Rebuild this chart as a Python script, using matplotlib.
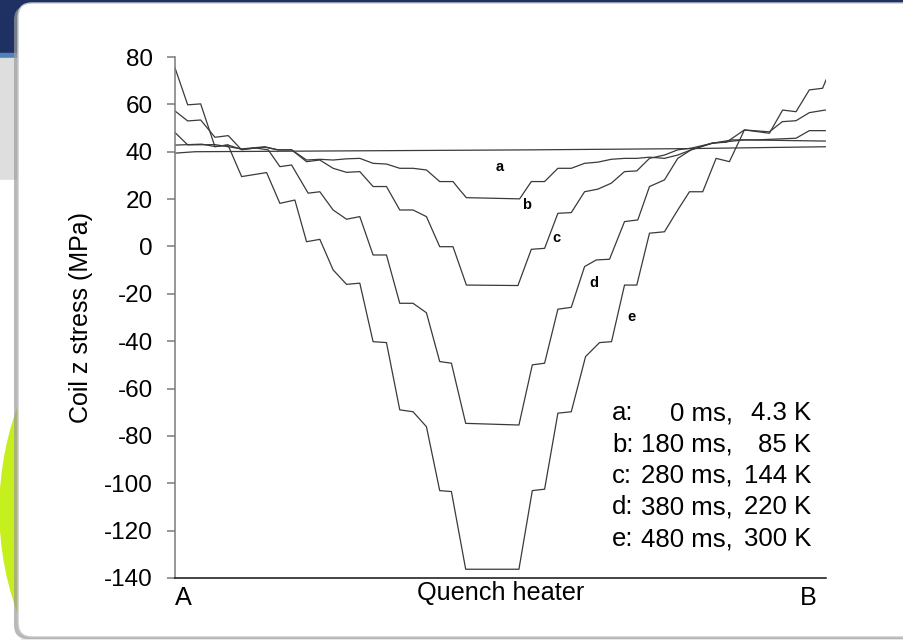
import matplotlib
matplotlib.use('Agg')
import matplotlib.pyplot as plt
from matplotlib.patches import Rectangle, Circle, FancyBboxPatch

plt.rcParams['font.family'] = ['Liberation Sans', 'DejaVu Sans']
plt.rcParams['axes.unicode_minus'] = False

# position along the coil from A to B (arbitrary units), stress in MPa
pos_a = [0, 20, 360, 510, 651]
stress_a = [39.4, 40.0, 40.8, 41.3, 42.1]

pos_b = [0, 26.7, 40, 53.3, 66.7, 90, 103, 116.7, 131.7, 145, 158.3, 171.7, 185,
         198.3, 211.7, 225, 238.3, 251.7, 265, 278.3, 285, 291.7, 345, 356.7, 370,
         383.3, 396.7, 410, 423.3, 436.7, 450, 462.3, 475, 490, 503.3, 516.7, 538,
         570, 651]
stress_b = [42.8, 43.2, 42.2, 42.8, 41.0, 41.9, 40.8, 40.8, 36.5, 36.8, 36.5, 37.0, 37.2,
            35.1, 34.8, 33.0, 33.0, 32.3, 27.4, 27.4, 23.9, 20.6, 20.1, 27.4, 27.4,
            33.0, 33.0, 35.1, 35.6, 36.8, 37.2, 37.2, 37.7, 37.2, 38.6, 40.8, 43.6,
            45.0, 44.5]

pos_c = [0, 12.7, 40, 66.7, 90, 103, 116.7, 131.7, 145, 158.3, 171.7, 185, 198.3,
         211.7, 225, 238.3, 251.7, 265, 278.3, 291.7, 343.3, 356.7, 370, 383.3, 396.7,
         410, 423.3, 436.7, 450, 462.3, 475, 490, 503.3, 516.7, 538, 558, 582, 621.7,
         635, 651]
stress_c = [48.1, 42.9, 43.0, 41.2, 42.1, 40.8, 40.8, 35.8, 36.5, 33.0, 31.3, 31.6, 25.3,
            25.3, 15.4, 15.4, 12.6, -0.1, -0.1, -16.3, -16.5, -1.2, -0.8, 14.0, 14.3,
            23.1, 24.2, 26.7, 31.6, 31.9, 37.2, 38.6, 40.8, 41.5, 43.6, 45.0, 45.0, 45.7,
            48.9, 48.9]

pos_d = [0, 12.7, 25.7, 40, 53.3, 66.7, 80, 93.3, 105, 116.7, 133.3, 145, 158.3, 171.7,
         185, 198.3, 211.7, 225, 238.3, 251.7, 265, 276.7, 291, 344.3, 357.7, 370,
         383.3, 396.7, 410, 421.7, 435, 450, 463.3, 475, 490, 503.3, 516.7, 538, 552,
         570, 595, 608, 621.7, 635, 651]
stress_d = [57.2, 53.0, 53.4, 46.1, 46.8, 40.8, 41.6, 40.8, 33.7, 34.4, 22.5, 23.1, 15.4, 11.5,
            12.6, -3.6, -3.6, -24.0, -24.0, -28.0, -48.6, -49.3, -74.7, -75.4, -50.0, -49.3,
            -26.5, -25.7, -8.5, -5.7, -5.4, 10.5, 11.2, 25.3, 28.1, 37.2, 40.8, 43.7, 44.0,
            49.2, 48.4, 52.7, 53.1, 56.5, 57.6]

pos_e = [0, 12.7, 25.7, 40, 53, 66.7, 91.7, 105, 120, 131.7, 145, 158.3, 171.7, 185,
         198.3, 211.7, 225, 238.3, 251.7, 265, 276.7, 291, 344.3, 357.7, 370, 383.3,
         396.7, 411, 425, 437, 450, 462.3, 475, 490, 503.3, 515, 528.3, 541.7, 555, 570,
         595, 608.3, 621.7, 635, 648.3, 651.7]
stress_e = [75.4, 59.8, 60.2, 42.1, 42.9, 29.5, 31.2, 18.2, 19.6, 2.0, 3.0, -9.9, -16.0, -15.5,
            -40.2, -40.6, -69.0, -69.8, -76.1, -103.1, -103.5, -136.3, -136.3, -103.1, -102.5, -70.4,
            -69.8, -46.5, -40.6, -40.2, -16.3, -16.3, 5.6, 6.2, 15.4, 23.1, 23.1, 37.2, 35.8, 49.2,
            47.8, 57.6, 56.9, 66.1, 66.8, 70.3]

curve_names = ['a', 'b', 'c', 'd', 'e']
label_pos = [325, 351.7, 382.3, 419, 457.3]
label_stress = [33.7, 17.5, 3.5, -15.3, -29.6]
times_ms = ['0', '180', '280', '380', '480']
temps_k = ['4.3', '85', '144', '220', '300']
yticks = [80, 60, 40, 20, 0, -20, -40, -60, -80, -100, -120, -140]

fig = plt.figure(figsize=(9.04, 6.4), dpi=100)

# slide background behind the chart
bg = fig.add_axes([0, 0, 1, 1])
bg.set_xlim(0, 904)
bg.set_ylim(640, 0)
bg.axis('off')
bg.add_patch(Rectangle((0, 0), 904, 640, color='#e9e9e9'))
bg.add_patch(Rectangle((0, 0), 904, 54, color='#1f3163'))
bg.add_patch(Rectangle((0, 53), 20, 5, color='#4f81bd'))
bg.add_patch(Rectangle((0, 58), 20, 122, color='#dedede'))
bg.add_patch(Rectangle((0, 180), 20, 460, color='white'))
disk = Circle((303, 510), 303, color='#c6ef1e')
bg.add_patch(disk)
disk.set_clip_path(Rectangle((0, 400), 24, 218, transform=bg.transData))
bg.add_patch(FancyBboxPatch((14, 6), 900, 633, boxstyle='round,pad=0,rounding_size=14',
                            fc='#9c9c9c', ec='none', alpha=0.7))
bg.add_patch(FancyBboxPatch((18, 3), 900, 634, boxstyle='round,pad=0,rounding_size=14',
                            fc='white', ec='#c8c8c8', lw=1))

ax = fig.add_axes([175 / 904, 1 - 578 / 640, 651 / 904, 521 / 640])
ax.patch.set_alpha(0)

line_color = '#3a3a3a'
for p, s in [(pos_a, stress_a), (pos_b, stress_b), (pos_c, stress_c),
             (pos_d, stress_d), (pos_e, stress_e)]:
    ax.plot(p, s, color=line_color, lw=0.9)

for name, px, py in zip(curve_names, label_pos, label_stress):
    ax.text(px, py, name, fontsize=10.5, fontweight='bold', ha='center', va='center')

ax.set_xlim(0, 651.7)
ax.set_ylim(-140, 80)
ax.set_yticks(yticks)
ax.set_xticks([])
for side in ['top', 'right']:
    ax.spines[side].set_visible(False)
ax.spines['left'].set_color('#7a7a7a')
ax.spines['left'].set_linewidth(1.1)
ax.spines['bottom'].set_color('#111111')
ax.spines['bottom'].set_linewidth(1.1)
ax.tick_params(axis='y', direction='out', length=6, width=1.1, color='#7a7a7a',
               labelsize=17.5, pad=10)

ax.set_ylabel('Coil z stress (MPa)', fontsize=18)
ax.yaxis.set_label_coords((93 - 175) / 651, 0.5)

ax.text(0.5, -(593 - 578) / 521, 'Quench heater', fontsize=18.2, ha='center', va='center',
        transform=ax.transAxes)
ax.text((183 - 175) / 651, -(598 - 578) / 521, 'A', fontsize=18.2, ha='center', va='center',
        transform=ax.transAxes)
ax.text((808 - 175) / 651, -(598 - 578) / 521, 'B', fontsize=18.2, ha='center', va='center',
        transform=ax.transAxes)

# legend block of times and temperatures
row_y = [413, 444.5, 476, 507.5, 539]
for name, t, k, py in zip(curve_names, times_ms, temps_k, row_y):
    yf = (578 - py) / 521
    ax.text((612 - 175) / 651, yf, name + ':', fontsize=18.5, ha='left', va='center',
            transform=ax.transAxes)
    ax.text((733 - 175) / 651, yf, t + ' ms,', fontsize=18.5, ha='right', va='center',
            transform=ax.transAxes)
    ax.text((811 - 175) / 651, yf, k + ' K', fontsize=18.5, ha='right', va='center',
            transform=ax.transAxes)

fig.savefig('out.png', dpi=100)
